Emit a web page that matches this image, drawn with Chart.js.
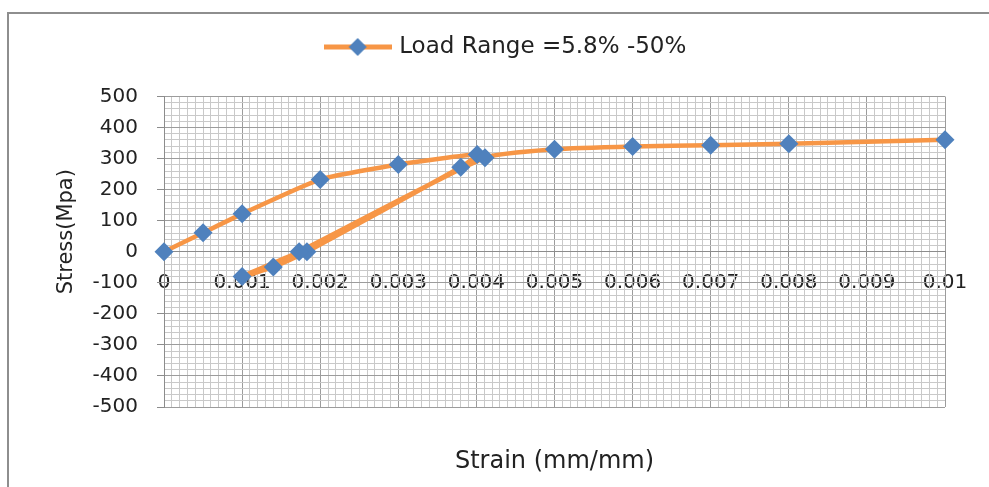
<!DOCTYPE html>
<html>
<head>
    <title>Stress vs Strain</title>
    <script src="https://cdn.jsdelivr.net/npm/chart.js"></script>
    <style>
        body { margin: 0; background: #fff; }
        #wrap { position: relative; width: 989px; height: 487px; }
        #frame { position: absolute; left: 7px; top: 12px; right: 0; bottom: 0;
                 border-left: 2px solid #8e8e8e; border-top: 2px solid #8e8e8e; pointer-events: none; }
    </style>
</head>
<body>
<div id="wrap">
    <canvas id="stressChart" width="989" height="487"></canvas>
    <div id="frame"></div>
</div>

<script>
    // data
    const seriesName = 'Load Range =5.8% -50%';
    const strain = [0, 0.0005, 0.001, 0.002, 0.003, 0.00401, 0.0038, 0.00183, 0.0014, 0.001, 0.00173, 0.00411, 0.005, 0.006, 0.007, 0.008, 0.01];
    const stress = [0, 61, 122, 233, 281, 313, 272, 0, -49, -80, 0, 303, 330, 339, 343, 348, 361];
    const xLabels = ['0', '0.001', '0.002', '0.003', '0.004', '0.005', '0.006', '0.007', '0.008', '0.009', '0.01'];

    const lineColor = '#F79646';
    const pointColor = '#4F81BD';
    const majorGrid = '#9c9c9c';
    const minorGrid = '#c9c9c9';

    // little legend swatch: line with a diamond on it
    const swatch = document.createElement('canvas');
    swatch.width = 68;
    swatch.height = 22;
    const g = swatch.getContext('2d');
    g.strokeStyle = lineColor;
    g.lineWidth = 5;
    g.beginPath(); g.moveTo(0, 11); g.lineTo(68, 11); g.stroke();
    g.fillStyle = pointColor;
    g.beginPath(); g.moveTo(34, 2); g.lineTo(43, 11); g.lineTo(34, 20); g.lineTo(25, 11); g.closePath(); g.fill();

    function isMajorX(v) {
        return Math.abs(v * 1000 - Math.round(v * 1000)) < 1e-6;
    }
    function isMajorY(v) {
        return Math.round(v) % 100 === 0;
    }

    // extra room between legend and plot
    const legendGap = {
        id: 'legendGap',
        beforeInit(chart) {
            const fit = chart.legend.fit;
            chart.legend.fit = function () {
                fit.call(this);
                this.height += 28;
            };
        }
    };

    const ctx = document.getElementById('stressChart').getContext('2d');
    const myChart = new Chart(ctx, {
        type: 'scatter',
        data: {
            datasets: [{
                label: seriesName,
                data: strain.map((x, i) => ({ x: x, y: stress[i] })),
                showLine: true,
                tension: 0.15,
                borderColor: lineColor,
                borderWidth: 4.5,
                pointStyle: 'rectRot',
                pointRadius: 9.5,
                pointHoverRadius: 9.5,
                pointBackgroundColor: pointColor,
                pointBorderColor: pointColor,
                pointBorderWidth: 0,
                clip: false
            }]
        },
        options: {
            responsive: false,
            animation: false,
            layout: { padding: { left: 69, right: 44, top: 25.5, bottom: 80 } },
            plugins: {
                tooltip: { enabled: false },
                legend: {
                    position: 'top',
                    labels: {
                        usePointStyle: true,
                        pointStyleWidth: 60,
                        padding: 10,
                        color: '#222',
                        font: { family: 'DejaVu Sans', size: 23 },
                        generateLabels(chart) {
                            const items = Chart.defaults.plugins.legend.labels.generateLabels(chart);
                            items.forEach(it => { it.pointStyle = swatch; });
                            return items;
                        }
                    }
                }
            },
            scales: {
                x: {
                    type: 'linear',
                    position: { y: 0 },
                    min: 0,
                    max: 0.01,
                    afterFit(scale) { scale.height = 224; },
                    ticks: {
                        stepSize: 0.0001,
                        autoSkip: false,
                        maxRotation: 0,
                        padding: 13,
                        z: -2,
                        color: '#222',
                        font: { family: 'DejaVu Sans', size: 20 },
                        callback(value) {
                            return isMajorX(value) ? xLabels[Math.round(value * 1000)] : '';
                        }
                    },
                    grid: {
                        tickLength: 6,
                        color: c => isMajorX(c.tick.value) ? majorGrid : minorGrid,
                        tickColor: c => isMajorX(c.tick.value) ? '#8c8c8c' : 'rgba(0,0,0,0)'
                    },
                    border: { color: '#8c8c8c' },
                    title: {
                        display: true,
                        text: 'Strain (mm/mm)',
                        color: '#222',
                        padding: 0,
                        font: { family: 'DejaVu Sans', size: 24 }
                    }
                },
                y: {
                    type: 'linear',
                    position: 'left',
                    min: -500,
                    max: 500,
                    afterFit(scale) { scale.width = 95; },
                    ticks: {
                        stepSize: 20,
                        autoSkip: false,
                        padding: 19,
                        color: '#222',
                        font: { family: 'DejaVu Sans', size: 20 },
                        callback(value) {
                            return isMajorY(value) ? String(value) : '';
                        }
                    },
                    grid: {
                        tickLength: 7,
                        color: c => isMajorY(c.tick.value) ? majorGrid : minorGrid,
                        tickColor: c => isMajorY(c.tick.value) ? '#8c8c8c' : 'rgba(0,0,0,0)'
                    },
                    border: { color: '#8c8c8c' },
                    title: {
                        display: true,
                        text: '      Stress(Mpa)',
                        color: '#222',
                        padding: { top: -14.6, bottom: 0 },
                        font: { family: 'DejaVu Sans', size: 21 }
                    }
                }
            }
        },
        plugins: [legendGap]
    });
</script>
</body>
</html>
